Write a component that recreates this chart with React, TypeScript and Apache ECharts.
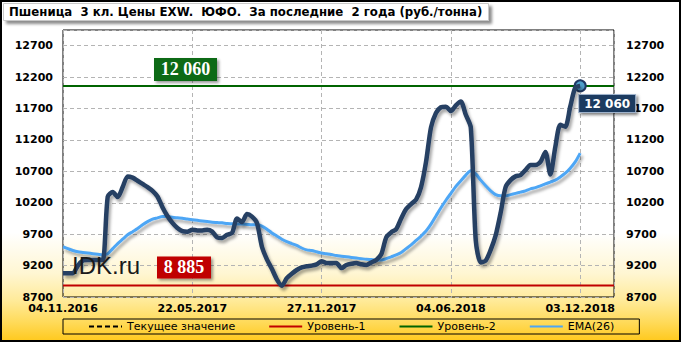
import React, { useEffect, useRef } from 'react';
import * as echarts from 'echarts';

const TITLE = 'Пшеница  3 кл. Цены EXW.  ЮФО.  За последние  2 года (руб./тонна)';
const X_LABELS = ['04.11.2016', '22.05.2017', '27.11.2017', '04.06.2018', '03.12.2018'];
const X_LABEL_STEP = 26;
const X_MAX = 110.8;
const Y_MIN = 8700;
const Y_MAX = 12950;
const Y_STEP = 500;

const PRICE = [
  9080, 9080, 9080, 9200, 9280, 9290, 9290, 9290, 9290, 10300,
  10370, 10290, 10450, 10620, 10600, 10550, 10500, 10450, 10390, 10300,
  10130, 9990, 9880, 9800, 9750, 9740, 9770, 9760, 9760, 9770,
  9740, 9650, 9640, 9690, 9720, 9950, 9890, 10020, 9980, 9880,
  9500, 9300, 9150, 8980, 8880, 9000, 9070, 9130, 9170, 9190,
  9200, 9220, 9270, 9240, 9240, 9240, 9160, 9210, 9230, 9240,
  9220, 9210, 9250, 9290, 9380, 9650, 9730, 9780, 9950, 10100,
  10180, 10250, 10450, 10850, 11400, 11630, 11720, 11730, 11660, 11750,
  11810, 11600, 11400, 9600, 9250, 9280, 9450, 9680, 10040, 10450,
  10560, 10620, 10640, 10720, 10800, 10800, 10850, 11010, 10650, 11090,
  11440, 11410, 11730, 12030, 12060,
];

const EMA26 = [
  9500, 9470, 9440, 9420, 9410, 9400, 9390, 9380, 9370, 9390,
  9470, 9550, 9620, 9690, 9740, 9790, 9850, 9900, 9940, 9960,
  9980, 9980, 9970, 9960, 9955, 9940, 9930, 9920, 9910, 9900,
  9890, 9885, 9880, 9870, 9865, 9860, 9860, 9855, 9850, 9850,
  9830, 9780, 9720, 9670, 9620, 9580, 9550, 9520, 9480, 9450,
  9440, 9420, 9400, 9390, 9375, 9360, 9350, 9340, 9330, 9320,
  9310, 9300, 9295, 9290, 9290, 9310, 9340, 9370, 9410, 9470,
  9530, 9600, 9670, 9750, 9860, 9990, 10120, 10240, 10350, 10460,
  10550, 10640, 10710, 10660, 10560, 10470, 10390, 10330, 10310, 10310,
  10330, 10350, 10370, 10390, 10420, 10440, 10470, 10500, 10530, 10560,
  10610, 10670, 10750, 10850, 10990,
];

const LEVEL_1 = 8885;
const LEVEL_2 = 12060;
const SERIES_NAMES = ['Цена', 'Текущее значение', 'Уровень-1', 'Уровень-2', 'EMA(26)'];
const LEGEND_NAMES = ['Текущее значение', 'Уровень-1', 'Уровень-2', 'EMA(26)'];
const WATERMARK = 'IDK.ru';

const FONT = 'Tahoma, "DejaVu Sans", sans-serif';
const fmt = (v: number) => String(Math.round(v)).replace(/\B(?=(\d{3})+(?!\d))/g, ' ');

export default function App() {
  const ref = useRef<HTMLDivElement>(null);

  useEffect(() => {
    if (!ref.current) return;
    const chart = echarts.init(ref.current, undefined, { renderer: 'svg' });

    const priceData = PRICE.map((v, i) => [i, v]);
    const emaData = EMA26.map((v, i) => [i, v]);
    const shadow = { shadowColor: 'rgba(0,0,0,0.35)', shadowBlur: 3, shadowOffsetX: 2, shadowOffsetY: 3 };

    const yAxisBase = {
      type: 'value',
      min: Y_MIN,
      max: Y_MAX,
      interval: Y_STEP,
      axisLine: { show: false },
      axisTick: { show: false },
      axisLabel: {
        showMaxLabel: false,
        fontSize: 11,
        fontWeight: 'bold',
        color: '#000',
        fontFamily: FONT,
        formatter: (v: number) => String(v),
      },
    };

    chart.setOption({
      animation: false,
      textStyle: { fontFamily: FONT },
      title: {
        text: TITLE,
        left: 3,
        top: 3,
        padding: [3, 6, 3, 6],
        backgroundColor: '#fff',
        borderColor: '#c8c8c8',
        borderWidth: 1,
        shadowColor: 'rgba(0,0,0,0.45)',
        shadowBlur: 3,
        shadowOffsetX: 3,
        shadowOffsetY: 3,
        textStyle: { fontSize: 11.75, fontWeight: 'bold', color: '#000', fontFamily: FONT },
      },
      grid: { left: 63, right: 67, top: 30, bottom: 45, show: true, borderColor: '#000', borderWidth: 1 },
      xAxis: {
        type: 'value',
        min: 0,
        max: X_MAX,
        interval: X_LABEL_STEP,
        axisLine: { show: false },
        axisTick: { show: false },
        splitLine: { show: true, lineStyle: { color: '#b4b4b4', type: [4, 3] } },
        axisLabel: {
          margin: 6,
          fontSize: 11,
          fontWeight: 'bold',
          color: '#000',
          fontFamily: FONT,
          showMaxLabel: false,
          formatter: (v: number) => {
            const k = Math.round(v / X_LABEL_STEP);
            return Math.abs(v - k * X_LABEL_STEP) < 1e-6 && X_LABELS[k] ? X_LABELS[k] : '';
          },
        },
      },
      yAxis: [
        { ...yAxisBase, position: 'left', axisLabel: { ...yAxisBase.axisLabel, margin: 10 }, splitLine: { show: true, lineStyle: { color: '#b4b4b4', type: [4, 3] } } },
        { ...yAxisBase, position: 'right', axisLabel: { ...yAxisBase.axisLabel, margin: 12 }, splitLine: { show: false } },
      ],
      legend: {
        data: LEGEND_NAMES,
        left: 63,
        top: 319,
        padding: [2, 25, 2, 25],
        itemGap: 33,
        itemWidth: 33,
        itemHeight: 10,
        itemStyle: { opacity: 0 },
        borderColor: '#000',
        borderWidth: 1,
        textStyle: { fontSize: 11, color: '#000', fontFamily: FONT },
      },
      series: [
        {
          name: SERIES_NAMES[2],
          type: 'line',
          data: [[0, LEVEL_1], [X_MAX, LEVEL_1]],
          symbol: 'none',
          itemStyle: { color: '#C00000' },
          lineStyle: { color: '#C00000', width: 2 },
          z: 2,
        },
        {
          name: SERIES_NAMES[3],
          type: 'line',
          data: [[0, LEVEL_2], [X_MAX, LEVEL_2]],
          symbol: 'none',
          itemStyle: { color: '#006400' },
          lineStyle: { color: '#006400', width: 2 },
          z: 2,
        },
        {
          name: SERIES_NAMES[1],
          type: 'line',
          data: [],
          symbol: 'none',
          itemStyle: { color: '#000' },
          lineStyle: { color: '#000', width: 1, type: [5, 3] },
        },
        {
          name: SERIES_NAMES[4],
          type: 'line',
          data: emaData,
          symbol: 'none',
          smooth: 0.3,
          itemStyle: { color: '#4DA6F5' },
          lineStyle: { color: '#4DA6F5', width: 3, ...shadow },
          z: 3,
        },
        {
          name: SERIES_NAMES[0],
          type: 'line',
          data: priceData,
          symbol: 'none',
          smooth: 0.25,
          itemStyle: { color: '#263F63' },
          lineStyle: { color: '#263F63', width: 4.5, ...shadow },
          z: 5,
          markPoint: {
            data: [{ type: 'max' }],
            symbol: 'circle',
            symbolSize: 11,
            itemStyle: { color: '#4F9FCB', borderColor: '#1F3864', borderWidth: 2 },
            label: {
              show: true,
              position: [5.5, 15.5],
              formatter: (p: any) => fmt(Array.isArray(p.value) ? p.value[1] : p.value),
              color: '#fff',
              fontWeight: 'bold',
              fontSize: 12,
              fontFamily: FONT,
              backgroundColor: '#1F3A60',
              borderColor: '#9fb3cc',
              borderWidth: 1,
              padding: [3, 5, 2, 5],
              shadowColor: 'rgba(0,0,0,0.5)',
              shadowBlur: 3,
              shadowOffsetX: 2,
              shadowOffsetY: 2,
            },
          },
        },
      ],
    });

    const y1 = chart.convertToPixel({ yAxisIndex: 0 }, LEVEL_1) as number;
    const y2 = chart.convertToPixel({ yAxisIndex: 0 }, LEVEL_2) as number;

    const levelBox = (x: number, bottom: number, w: number, h: number, fill: string, value: number) => ({
      type: 'group',
      z: 50,
      children: [
        {
          type: 'rect',
          shape: { x, y: bottom - h, width: w, height: h },
          style: { fill, shadowColor: 'rgba(0,0,0,0.4)', shadowBlur: 3, shadowOffsetX: 2, shadowOffsetY: 2 },
        },
        {
          type: 'text',
          x: x + w / 2,
          y: bottom - h / 2,
          style: {
            text: fmt(value),
            fill: '#fff',
            font: 'bold 18px "Liberation Serif", "Times New Roman", serif',
            align: 'center',
            verticalAlign: 'middle',
          },
        },
      ],
    });

    chart.setOption({
      graphic: [
        {
          type: 'rect',
          z: 100,
          shape: { x: 1, y: 1, width: 679, height: 340 },
          style: { fill: 'none', stroke: '#000', lineWidth: 2 },
        },
        {
          type: 'text',
          z: 40,
          x: 72,
          y: 253,
          style: { text: WATERMARK, fill: '#1a1a1a', font: '24px "Liberation Sans", Arial, sans-serif' },
        },
        levelBox(154, y2 - 5, 63, 23, '#0E6A12', LEVEL_2),
        levelBox(157, y1 - 7, 54, 22, '#C00000', LEVEL_1),
      ],
    });

    return () => chart.dispose();
  }, []);

  return (
    <div
      ref={ref}
      style={{
        position: 'absolute',
        left: 0,
        top: 0,
        width: 681,
        height: 342,
        background:
          'linear-gradient(to bottom, #ffffff 0%, #ffffff 68%, #fff6d2 80%, #ffea98 88%, #ffdb5c 94%, #ffc81a 100%)',
      }}
    />
  );
}
